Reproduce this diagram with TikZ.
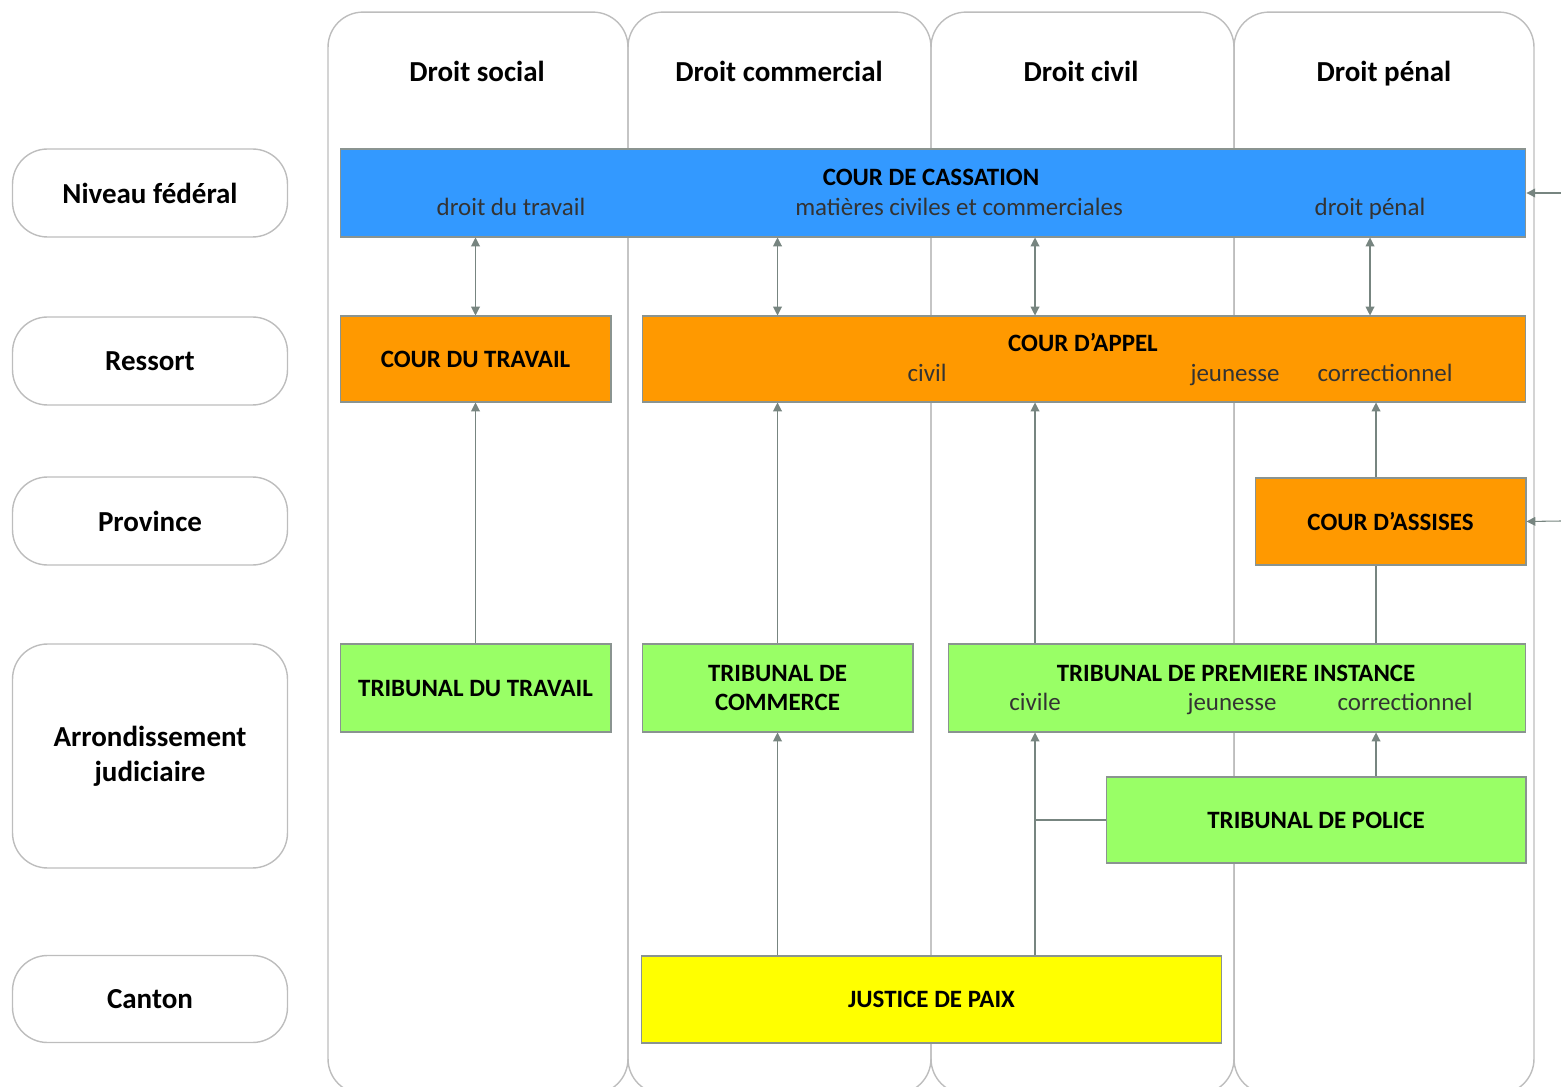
\documentclass[tikz,border=0pt]{standalone}
\usepackage{fontspec}
\setmainfont{Carlito}
\usetikzlibrary{arrows.meta,positioning}
\definecolor{cassblue}{HTML}{3399FF}
\definecolor{appelorange}{HTML}{FF9900}
\definecolor{tribgreen}{HTML}{99FF66}
\definecolor{paixyellow}{HTML}{FFFF00}
\definecolor{lanegray}{HTML}{BDBDBD}
\definecolor{edgegray}{HTML}{8A9490}
\definecolor{linkgray}{HTML}{778580}

\tikzset{
	lane/.style={draw=lanegray, line width=0.8pt, rounded corners=0.7cm, minimum width=6cm, minimum height=21.64cm},
	head/.style={font=\fontsize{16.5}{19}\selectfont\bfseries, text height=12pt, text depth=3.5pt},
	level/.style={draw=lanegray, line width=0.8pt, rounded corners=0.7cm, minimum width=5.5cm, minimum height=1.76cm, align=center, font=\fontsize{16.5}{20}\selectfont\bfseries},
	court/.style={draw=edgegray, line width=0.6pt, align=center, font=\fontsize{14.2}{16.5}\selectfont\bfseries},
	sub/.style={font=\fontsize{14.2}{16}\selectfont, text=black!80, text height=10pt, text depth=3pt},
	link/.style={draw=linkgray, line width=0.6pt},
	up/.style={link, -{Triangle[width=5pt,length=5pt]}},
	both/.style={link, {Triangle[width=5pt,length=5pt]}-{Triangle[width=5pt,length=5pt]}}
}

\begin{document}
\begin{tikzpicture}[x=0.02cm, y=-0.02cm]
	\useasboundingbox (0,0) rectangle (1561,1087);

	% matieres
	\node[lane] (social) at (478,553) {};
	\node[lane, minimum width=6.06cm] (commercial) at (779.5,553) {};
	\node[lane, minimum width=6.06cm] (civil) at (1082.5,553) {};
	\node[lane] (penal) at (1384,553) {};
	\node[head] (hsocial) at (477,74) {Droit social};
	\node[head] (hcommercial) at (779,74) {Droit commercial};
	\node[head] (hcivil) at (1081,74) {Droit civil};
	\node[head] (hpenal) at (1384,74) {Droit pénal};

	% niveaux
	\node[level] (federal) at (150,193) {Niveau fédéral};
	\node[level] (ressort) at (150,361) {Ressort};
	\node[level] (province) at (150,521) {Province};
	\node[level, minimum height=4.48cm] (arrond) at (150,756) {Arrondissement\\judiciaire};
	\node[level, minimum height=1.74cm] (canton) at (150,999) {Canton};

	% juridictions
	\node[court, fill=cassblue, minimum width=23.72cm, minimum height=1.76cm] (cassation) at (933,193) {};
	\node[court, draw=none] (tcass) at (931,177) {COUR DE CASSATION};
	\node[sub] (ctravail) at (511,209) {droit du travail};
	\node[sub] (ccivcom) at (959,209) {matières civiles et commerciales};
	\node[sub] (cpenal) at (1370,209) {droit pénal};

	\node[court, fill=appelorange, minimum width=5.42cm, minimum height=1.72cm] (cdt) at (475.5,359) {COUR DU TRAVAIL};
	\node[court, fill=appelorange, minimum width=17.68cm, minimum height=1.72cm] (appel) at (1084,359) {};
	\node[court, draw=none] (tappel) at (1083,343) {COUR D’APPEL};
	\node[sub] (acivil) at (927,375) {civil};
	\node[sub] (ajeunesse) at (1235,375) {jeunesse};
	\node[sub] (acorr) at (1385,375) {correctionnel};

	\node[court, fill=appelorange, minimum width=5.42cm, minimum height=1.74cm] (assises) at (1390.5,521.5) {COUR D’ASSISES};

	\node[court, fill=tribgreen, minimum width=5.42cm, minimum height=1.76cm] (tdt) at (475.5,688) {TRIBUNAL DU TRAVAIL};
	\node[court, fill=tribgreen, minimum width=5.42cm, minimum height=1.76cm] (commerce) at (777.5,688) {TRIBUNAL DE\\[-0.5pt]COMMERCE};
	\node[court, fill=tribgreen, minimum width=11.56cm, minimum height=1.76cm] (tpi) at (1237,688) {};
	\node[court, draw=none] (ttpi) at (1236,673) {TRIBUNAL DE PREMIERE INSTANCE};
	\node[sub] (tcivile) at (1035,704) {civile};
	\node[sub] (tjeunesse) at (1232,704) {jeunesse};
	\node[sub] (tcorr) at (1405,704) {correctionnel};

	\node[court, fill=tribgreen, minimum width=8.4cm, minimum height=1.72cm] (police) at (1316,820) {TRIBUNAL DE POLICE};
	\node[court, fill=paixyellow, minimum width=11.62cm, minimum height=1.74cm] (paix) at (931.5,999.5) {JUSTICE DE PAIX};

	\coordinate (crim) at (1376,0);
	\coordinate (ext1) at (1561,193);
	\coordinate (ext2) at (1561,521);

	% recours
	\draw[both] (cassation.south -| cdt) -- (cdt.north);
	\draw[both] (cassation.south -| commerce) -- (appel.north -| commerce);
	\draw[both] (cassation.south -| tcivile) -- (appel.north -| tcivile);
	\draw[both] (cassation.south -| cpenal) -- (appel.north -| cpenal);
	\draw[up] (tdt.north) -- (cdt.south);
	\draw[up] (commerce.north) -- (appel.south -| commerce);
	\draw[up] (tpi.north -| tcivile) -- (appel.south -| tcivile);
	\draw[up] (assises.north -| crim) -- (appel.south -| crim);
	\draw[link] (tpi.north -| crim) -- (assises.south -| crim);
	\draw[up] (police.north -| crim) -- (tpi.south -| crim);
	\draw[up] (paix.north -| commerce) -- (commerce.south);
	\draw[up] (paix.north -| tcivile) -- (tpi.south -| tcivile);
	\draw[link] (police.west) -- (police.west -| tcivile);
	\draw[up] (ext1) -- (cassation.east);
	\draw[up] (ext2) -- (assises.east);
\end{tikzpicture}
\end{document}
